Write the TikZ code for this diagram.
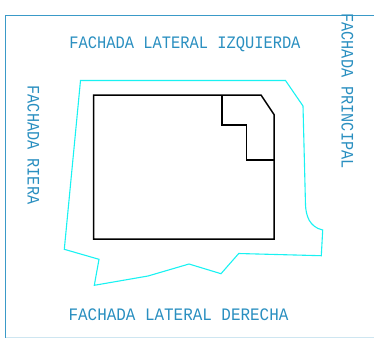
\documentclass[tikz,border=0pt]{standalone}
\usepackage{fontspec}
\setmainfont{Liberation Mono}
\usepackage{xcolor}
\definecolor{framecolor}{HTML}{3a9ac8}
\definecolor{labelcolor}{HTML}{2a8fc0}
\definecolor{plotcolor}{HTML}{19f2f2}

\begin{document}
\begin{tikzpicture}[x = 1pt, y = -1pt]
        \useasboundingbox (0, 0) rectangle (374, 338);
        \tikzset{label text/.style = {text = labelcolor, inner sep = 0pt, font = \fontsize{17.5}{17.5}\selectfont}}

        % Frame
        \draw [framecolor, line width = 1pt] (5.5, 337.6) -- (5.5, 15) -- (374, 15);
        \draw [framecolor!25, line width = 1pt] (5.5, 337.6) -- (374, 337.6);

        % Plot
        \draw [plotcolor, line width = 1.1pt] (80.5, 80.5) -- (285.5, 80.5) -- (303, 106) -- (305.5, 205)
            .. controls (306, 215) and (309, 227) .. (322.7, 230) -- (321.3, 255.7) -- (238.7, 253.5) -- (221, 273.7)
            -- (189, 264) -- (148, 276) -- (94.3, 285.3) -- (99, 259.3) -- (64.3, 249.3) -- cycle;

        % Building
        \draw [black, line width = 1.5pt] (93.5, 95) -- (261, 95) -- (274, 114.5) -- (274, 239) -- (93.5, 239) -- cycle;
        \draw [black, line width = 1.3pt] (222, 95) -- (222, 125) -- (246.5, 125) -- (246.5, 160) -- (274, 160);

        % Labels
        \node [label text, anchor = center, xscale = 0.88] (izquierda) at (185, 44.5) {FACHADA LATERAL IZQUIERDA};
        \node [label text, anchor = center, xscale = 0.91] (derecha) at (178.5, 315) {FACHADA LATERAL DERECHA};
        \node [label text, anchor = center, rotate = -90, xscale = 0.87] (riera) at (33.5, 145) {FACHADA RIERA};
        \node [label text, anchor = center, rotate = -90, xscale = 0.87] (principal) at (347.5, 91) {FACHADA PRINCIPAL};

    \end{tikzpicture}
\end{document}
